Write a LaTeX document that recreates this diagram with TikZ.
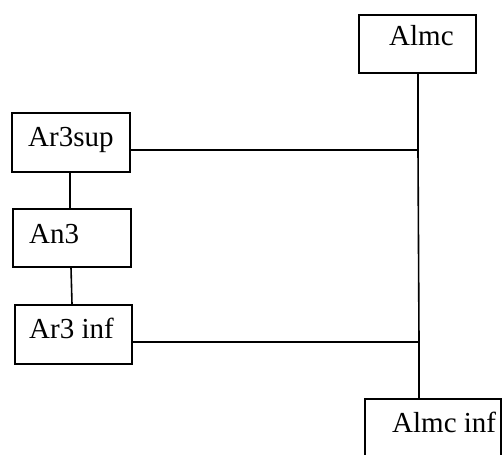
\documentclass[tikz,border=0pt]{standalone}
\usepackage{fontspec}
\setmainfont{Liberation Serif}
\begin{document}
\begin{tikzpicture}[x=1pt,y=-1pt,
  box/.style={draw,line width=1.6pt,rectangle,inner sep=0pt,anchor=north west},
  lbl/.style={anchor=base west,inner sep=0pt,font=\fontsize{29}{34}\selectfont},
  conn/.style={line width=1.6pt}]
\clip (0,0) rectangle (502,454);
\useasboundingbox (0,0) rectangle (502,454);
% boxes
\node[box,minimum width=117pt,minimum height=58pt] (almc) at (358,14) {};
\node[box,minimum width=118pt,minimum height=59pt] (ar3sup) at (11,112) {};
\node[box,minimum width=118pt,minimum height=58pt] (an3) at (12,208) {};
\node[box,minimum width=117pt,minimum height=59pt] (ar3inf) at (14,304) {};
\node[box,minimum width=136pt,minimum height=80pt] (almcinf) at (364,398) {};
% labels
\node[lbl] (talmc) at (389,46) {Almc};
\node[lbl] (tar3sup) at (28,147) {Ar3sup};
\node[lbl] (tan3) at (29,243) {An3};
\node[lbl] (tar3inf) at (29,338) {Ar3 inf};
\begin{scope}
\clip (364,398) rectangle (500,454);
\node[lbl] (talmcinf) at (392,432) {Almc inf};
\end{scope}
% junctions
\coordinate (jtop) at (418,150);
\coordinate (jbot) at (419,342);
% connectors
\draw[conn] (almc.south -| jtop) -- (jtop) -- (jbot) -- (jbot |- almcinf.north);
\draw[conn] (ar3sup.east |- jtop) -- (jtop);
\draw[conn] (ar3inf.east |- jbot) -- (jbot);
\draw[conn] ([xshift=59pt]ar3sup.south west) -- ([xshift=58pt]an3.north west);
\draw[conn] ([xshift=59pt]an3.south west) -- ([xshift=58pt]ar3inf.north west);
\end{tikzpicture}
\end{document}
